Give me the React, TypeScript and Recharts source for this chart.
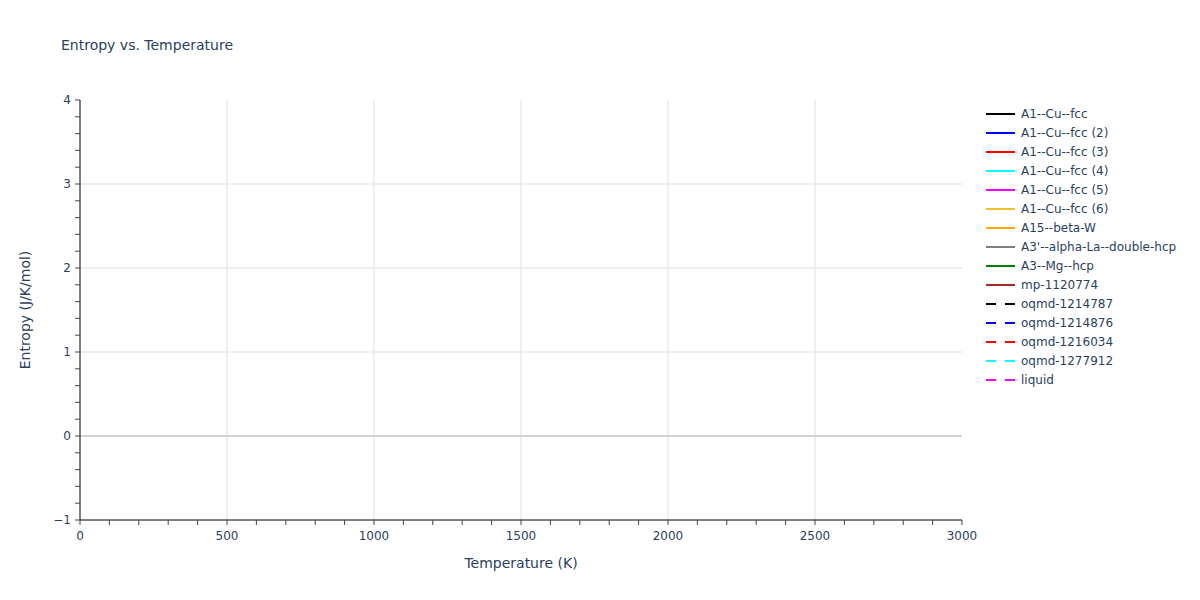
import { LineChart, Line, XAxis, YAxis, ReferenceLine } from 'recharts'

const FONT = '"DejaVu Sans", Verdana, sans-serif'
const TEXT = '#2a3f5f'

// temperature axis (K)
const xTicks = [
  0, 100, 200, 300, 400, 500, 600, 700, 800, 900, 1000, 1100, 1200, 1300, 1400, 1500,
  1600, 1700, 1800, 1900, 2000, 2100, 2200, 2300, 2400, 2500, 2600, 2700, 2800, 2900, 3000,
]
const xLabels = [0, 500, 1000, 1500, 2000, 2500, 3000]
const xGrid = [500, 1000, 1500, 2000, 2500]

// entropy axis (J/K/mol)
const yTicks = [
  -1, -0.8, -0.6, -0.4, -0.2, 0, 0.2, 0.4, 0.6, 0.8, 1, 1.2, 1.4, 1.6, 1.8, 2, 2.2, 2.4,
  2.6, 2.8, 3, 3.2, 3.4, 3.6, 3.8, 4,
]
const yLabels = [-1, 0, 1, 2, 3, 4]
const yGrid = [1, 2, 3]

// series: no entropy values fall inside the visible range
const seriesNames = [
  'A1--Cu--fcc', 'A1--Cu--fcc (2)', 'A1--Cu--fcc (3)', 'A1--Cu--fcc (4)', 'A1--Cu--fcc (5)',
  'A1--Cu--fcc (6)', 'A15--beta-W', "A3'--alpha-La--double-hcp", 'A3--Mg--hcp', 'mp-1120774',
  'oqmd-1214787', 'oqmd-1214876', 'oqmd-1216034', 'oqmd-1277912', 'liquid',
]
const seriesColors = [
  'black', 'blue', 'red', 'cyan', 'magenta', '#f0c030', 'orange', 'gray', 'green', 'brown',
  'black', 'blue', 'red', 'cyan', 'magenta',
]
const seriesDashed = [
  false, false, false, false, false, false, false, false, false, false,
  true, true, true, true, true,
]
const temps = [0, 3000]
const chartData = temps.map((t) => ({ t }))

const fmt = (v: number) => (v < 0 ? '\u2212' + Math.abs(v) : String(v))

const SvgLegend = () => (
  <svg width={220} height={300} style={{ position: 'absolute', left: 980, top: 104 }}>
    {seriesNames.map((name, i) => {
      const y = 10 + i * 19
      return (
        <g key={name}>
          <line
            x1={6} x2={35} y1={y} y2={y}
            stroke={seriesColors[i]} strokeWidth={2}
            strokeDasharray={seriesDashed[i] ? '10 9' : undefined}
          />
          <text x={41} y={y + 4} fontSize={12} fill={TEXT} fontFamily={FONT}>{name}</text>
        </g>
      )
    })}
  </svg>
)

export default function App() {
  return (
    <div style={{ position: 'absolute', left: 0, top: 0, width: 1200, height: 600, background: '#fff', fontFamily: FONT }}>
      <div style={{ position: 'absolute', left: 61, top: 37, fontSize: 14, color: TEXT }}>Entropy vs. Temperature</div>
      <LineChart width={1200} height={600} data={chartData} margin={{ top: 100, right: 238, bottom: 40, left: 40 }}>
        {xGrid.map((v) => (
          <ReferenceLine key={'x' + v} x={v} stroke="#dedede" strokeWidth={1} />
        ))}
        {yGrid.map((v) => (
          <ReferenceLine key={'y' + v} y={v} stroke="#e8e8e8" strokeWidth={1.5} />
        ))}
        <ReferenceLine y={0} stroke="#d2d2d2" strokeWidth={2} />
        <XAxis
          type="number" dataKey="t" domain={[0, 3000]} ticks={xTicks} interval={0}
          height={40} allowDataOverflow
          tickFormatter={(v: number) => (xLabels.includes(v) ? String(v) : '')}
          axisLine={{ stroke: '#000', strokeWidth: 1 }}
          tickLine={{ stroke: '#444' }} tickSize={5} tickMargin={6}
          tick={{ fill: TEXT, fontSize: 12, fontFamily: FONT }}
          label={{ value: 'Temperature (K)', position: 'insideBottom', offset: -8, fill: TEXT, fontSize: 14, fontFamily: FONT }}
        />
        <YAxis
          type="number" domain={[-1, 4]} ticks={yTicks} interval={0}
          width={40} allowDataOverflow
          tickFormatter={(v: number) => (yLabels.includes(v) ? fmt(v) : '')}
          axisLine={{ stroke: '#000', strokeWidth: 1 }}
          tickLine={{ stroke: '#444' }} tickSize={5} tickMargin={4}
          tick={{ fill: TEXT, fontSize: 12, fontFamily: FONT }}
          label={{ value: 'Entropy (J/K/mol)', angle: -90, position: 'insideLeft', offset: -15, fill: TEXT, fontSize: 14, fontFamily: FONT, style: { textAnchor: 'middle' } }}
        />
        {seriesNames.map((name, i) => (
          <Line
            key={name} name={name} dataKey={'s' + i} type="linear"
            stroke={seriesColors[i]} strokeWidth={2} dot={false}
            strokeDasharray={seriesDashed[i] ? '10 9' : undefined}
            isAnimationActive={false}
          />
        ))}
      </LineChart>
      <SvgLegend />
    </div>
  )
}
